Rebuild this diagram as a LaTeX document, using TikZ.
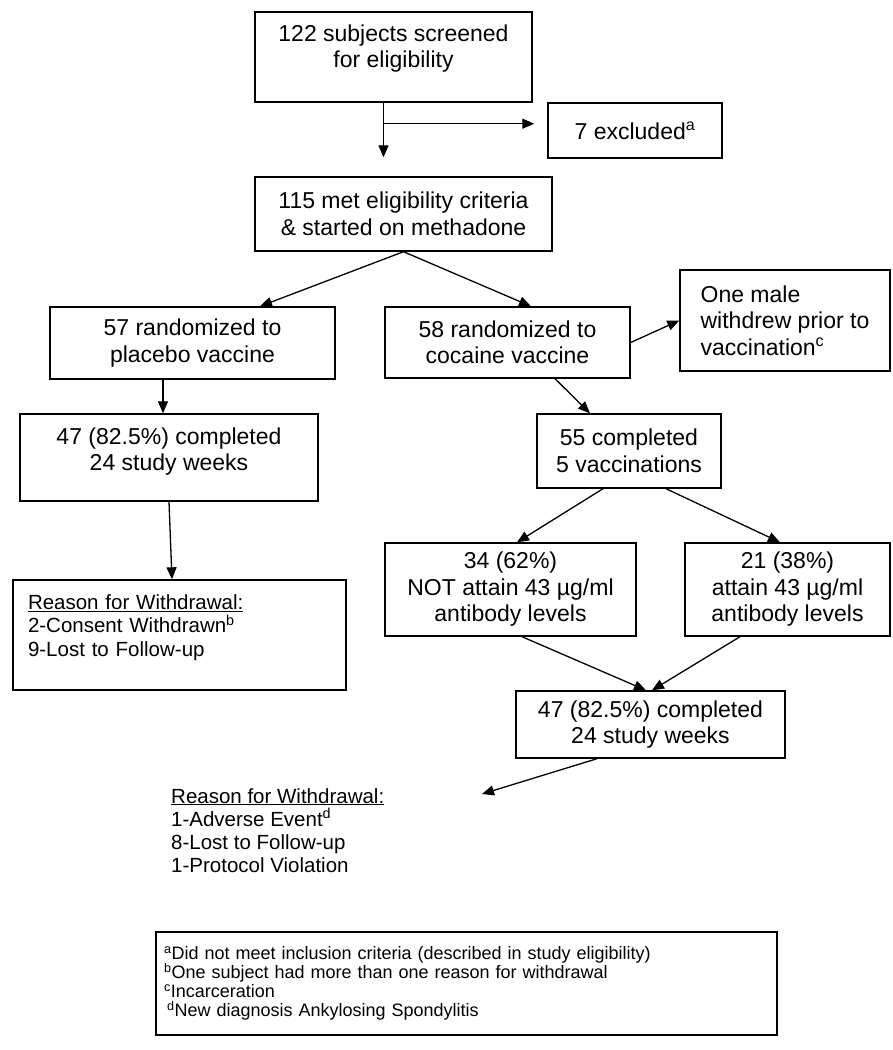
\documentclass[tikz,border=0pt]{standalone}
\usepackage{fontspec}
\setmainfont{Liberation Sans}
\usetikzlibrary{arrows.meta}
\tikzset{>={Triangle[length=12pt,width=10pt]}}
\tikzset{
  box/.style={draw, line width=1.4pt, align=center, inner sep=0pt,
    font=\fontsize{23}{26.5}\selectfont},
  leftbox/.style={box, align=left},
  arr/.style={->, line width=1.3pt},
  listtext/.style={align=left, inner sep=0pt, font=\fontsize{20.5}{23}\selectfont},
}

\begin{document}
\begin{tikzpicture}[x=1pt, y=-1pt]
\useasboundingbox (0,0) rectangle (893,1050);

% screening
\node[box, minimum width=277pt, minimum height=90pt, text depth=22pt] (scr) at (393.5,57) {122 subjects screened\\for eligibility};
\node[box, minimum width=174pt, minimum height=55pt] (excl) at (635,130.5) {7 excluded\textsuperscript{a}};
\node[box, minimum width=297pt, minimum height=74pt] (met) at (403.5,214) {115 met eligibility criteria\\\& started on methadone};

% randomization
\node[box, minimum width=285pt, minimum height=72pt] (pla) at (192.5,343) {57 randomized to\\placebo vaccine};
\node[box, minimum width=245pt, minimum height=71pt] (coc) at (507.5,342.5) {58 randomized to\\cocaine vaccine};
\node[leftbox, minimum width=210pt, minimum height=101pt] (male) at (785,320.5) {One male\\withdrew prior to\\vaccination\textsuperscript{c}};

% placebo arm
\node[box, minimum width=298pt, minimum height=87pt, text depth=17pt] (plc) at (169,457.5) {47 (82.5\%) completed\\24 study weeks};
\node[box, minimum width=333pt, minimum height=110pt, text width=303pt, align=left, text depth=66pt,
  font=\fontsize{20.5}{23.5}\selectfont] (plw) at (179.5,635)
  {\underline{Reason for Withdrawal:}\\2-Consent Withdrawn\textsuperscript{b}\\9-Lost to Follow-up};

% cocaine arm
\node[box, minimum width=184pt, minimum height=74pt] (vac) at (629,451) {55 completed\\5 vaccinations};
\node[box, minimum width=251pt, minimum height=93pt] (not) at (510.5,589.5) {34 (62\%)\\NOT attain 43 µg/ml\\antibody levels};
\node[box, minimum width=205pt, minimum height=93pt] (att) at (787.5,589.5) {21 (38\%)\\attain 43 µg/ml\\antibody levels};
\node[box, minimum width=269pt, minimum height=67pt] (cc) at (650.5,724.5) {47 (82.5\%) completed\\24 study weeks};
\node[listtext, anchor=north west] (ccw) at (171,788)
  {\underline{Reason for Withdrawal:}\\1-Adverse Event\textsuperscript{d}\\8-Lost to Follow-up\\1-Protocol Violation};
\coordinate (ccwend) at (482,794);

% footnotes
\node[box, minimum width=621pt, minimum height=103pt, text width=605pt, align=left,
  font=\fontsize{18}{19.2}\selectfont] (fn) at (466.5,983.5)
  {\textsuperscript{a}Did not meet inclusion criteria (described in study eligibility)\\
   \textsuperscript{b}One subject had more than one reason for withdrawal\\
   \textsuperscript{c}Incarceration\\
   \hspace{3pt}\textsuperscript{d}New diagnosis Ankylosing Spondylitis};

% connectors
\coordinate (split) at ([xshift=-10pt,yshift=-21pt]scr.south);
\draw[arr, shorten >=19pt] ([xshift=-10pt]scr.south) -- ([xshift=-10pt]scr.south |- met.north);
\draw[arr, shorten >=13pt] (split) -- (split -| excl.west);
\draw[arr] (met.south) -- ([xshift=67.5pt]pla.north);
\draw[arr] (met.south) -- ([xshift=23.5pt]coc.north);
\draw[arr] (coc.east) -- (male.west);
\draw[arr] ([xshift=-29.5pt]pla.south) -- ([xshift=-29.5pt]pla.south |- plc.north);
\draw[arr] (plc.south) -- ([xshift=-7.5pt]plw.north);
\draw[arr] ([xshift=47.5pt]coc.south) -- ([xshift=-39pt]vac.north);
\draw[arr] ([xshift=-26pt]vac.south) -- ([xshift=6.5pt]not.north);
\draw[arr] ([xshift=37pt]vac.south) -- ([xshift=-7.5pt]att.north);
\draw[arr] ([xshift=11.5pt]not.south) -- ([xshift=-4.5pt]cc.north);
\draw[arr] ([xshift=-47.5pt]att.south) -- ([xshift=1.5pt]cc.north);
\draw[arr] ([xshift=-53.5pt]cc.south) -- (ccwend);
\end{tikzpicture}
\end{document}
